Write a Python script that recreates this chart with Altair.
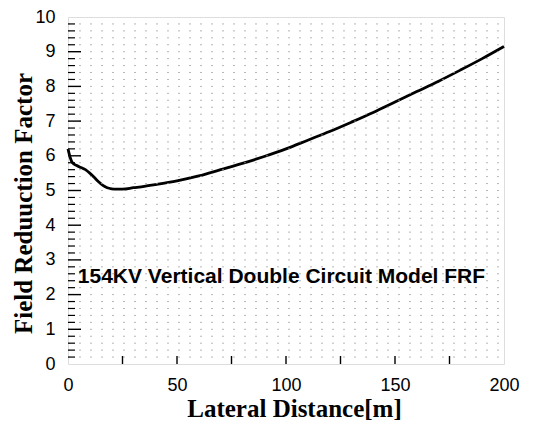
import altair as alt
import pandas as pd
import numpy as np

# Curve data
dist = [0, 1, 2, 4, 6, 8, 10, 12, 14, 16, 18, 20, 22, 25, 30, 35, 40, 50, 60, 70, 80, 90,
        100, 110, 120, 130, 140, 150, 160, 170, 180, 190, 200]
frf = [6.2, 5.95, 5.8, 5.72, 5.66, 5.6, 5.5, 5.38, 5.25, 5.15, 5.08, 5.05, 5.04, 5.04, 5.08, 5.12,
       5.17, 5.28, 5.42, 5.6, 5.78, 5.98, 6.2, 6.45, 6.7, 6.97, 7.25, 7.55, 7.85, 8.15, 8.47, 8.8, 9.15]

x_labels = [0, 50, 100, 150, 200]
x_ticks = [25, 50, 75, 100, 125, 150, 175]
y_labels = list(range(0, 11))
y_minor = [round(v, 1) for v in np.arange(0.2, 10.0, 0.2) if abs(v - round(v)) > 1e-6]
y_major = list(range(1, 10))
y_grid = [round(v, 1) for v in np.arange(0.2, 10.0, 0.2)]

W, H = 436, 347

curve = pd.DataFrame({"d": dist, "f": frf})

xs = alt.Scale(domain=[0, 200], nice=False, zero=False)
ys = alt.Scale(domain=[0, 10], nice=False, zero=False)

xax = alt.Axis(values=x_labels, title="Lateral Distance[m]", ticks=False, grid=False,
               domain=False, labelPadding=12, labelFontSize=18, labelFont="Liberation Sans",
               labelColor="black", labelFlush=False, labelOverlap=False,
               titleFont="Liberation Serif", titleFontSize=25,
               titleFontWeight="bold", titleColor="black",
               titleBaseline="alphabetic", titleAlign="center", titleX=226, titleY=52)
yax = alt.Axis(values=y_labels, title="Field Reduuction Factor", ticks=False, grid=False,
               domain=False, labelPadding=13, labelFontSize=18, labelFont="Liberation Sans",
               labelColor="black", labelFlush=False, labelOverlap=False,
               titleFont="Liberation Serif", titleFontSize=25,
               titleFontWeight="bold", titleColor="black",
               titleAngle=-90, titleBaseline="middle", titleAlign="center",
               titleX=-45, titleY=186)

base_line = alt.Chart(curve).mark_line(color="black", strokeWidth=2.8, interpolate="monotone").encode(
    x=alt.X("d:Q", scale=xs, axis=xax),
    y=alt.Y("f:Q", scale=ys, axis=yax),
)

grid = alt.Chart(pd.DataFrame({"g": y_grid})).mark_rule(
    color="#999", strokeWidth=0.9, strokeDash=[2, 9], opacity=0.8
).encode(y=alt.Y("g:Q", scale=ys, axis=yax), x=alt.value(0), x2=alt.value(W))

minor = alt.Chart(pd.DataFrame({"t": y_minor})).mark_rule(color="black", strokeWidth=1.2).encode(
    y=alt.Y("t:Q", scale=ys, axis=yax), x=alt.value(0), x2=alt.value(7))
major = alt.Chart(pd.DataFrame({"t": y_major})).mark_rule(color="black", strokeWidth=1.4).encode(
    y=alt.Y("t:Q", scale=ys, axis=yax), x=alt.value(0), x2=alt.value(13))
xt = alt.Chart(pd.DataFrame({"t": x_ticks})).mark_rule(color="black", strokeWidth=1.4).encode(
    x=alt.X("t:Q", scale=xs, axis=xax), y=alt.value(H), y2=alt.value(H - 8))

label = alt.Chart(pd.DataFrame({"x": [4.5], "y": [2.5], "t": ["154KV Vertical Double Circuit  Model FRF"]})).mark_text(
    align="left", baseline="middle", font="Liberation Sans", fontSize=21, fontWeight="bold", color="black"
).encode(x=alt.X("x:Q", scale=xs, axis=xax), y=alt.Y("y:Q", scale=ys, axis=yax), text="t:N")

chart = alt.layer(base_line, grid, minor, major, xt, label).properties(
    width=W, height=H,
    autosize=alt.AutoSizeParams(type="none"),
    padding={"left": 60, "top": 9, "right": 20, "bottom": 58},
).configure_view(stroke="black", strokeWidth=1.6).configure(background="white")

chart.save("out.html", embed_options={"renderer": "svg", "actions": False})
